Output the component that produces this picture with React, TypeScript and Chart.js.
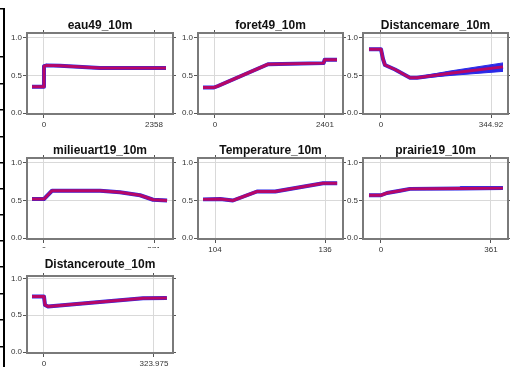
import React, { useEffect, useRef } from "react";
import { Chart, registerables } from "chart.js";

Chart.register(...registerables);
Chart.defaults.font.family = "'Liberation Sans', Arial, sans-serif";

// ---------- data ----------
const titles = [
  "eau49_10m",
  "foret49_10m",
  "Distancemare_10m",
  "milieuart19_10m",
  "Temperature_10m",
  "prairie19_10m",
  "Distanceroute_10m",
];

const yTickValues = [0, 0.5, 1];

// eau49_10m
const eauTicks = [0, 2358];
const eauTickLabels = ["0", "2358"];
const eauRange = [-364, 2765];
const eauX = [-257, 0, 0, 60, 343, 1200, 2615];
const eauY = [0.35, 0.35, 0.625, 0.635, 0.63, 0.6, 0.6];

// foret49_10m
const foretTicks = [0, 2401];
const foretTickLabels = ["0", "2401"];
const foretRange = [-371, 2794];
const foretX = [-262, -22, 65, 1157, 2370, 2395, 2663];
const foretY = [0.34, 0.34, 0.36, 0.65, 0.665, 0.71, 0.71];

// Distancemare_10m
const mareTicks = [0, 344.92];
const mareTickLabels = ["0", "344.92"];
const mareRange = [-56.4, 398.2];
const mareX = [-37.6, 0, 6.3, 12.5, 43.9, 90.9, 112.9, 216.4, 382.5];
const mareY = [0.85, 0.85, 0.72, 0.64, 0.58, 0.47, 0.47, 0.53, 0.615];
const mareLo = [0.85, 0.85, 0.72, 0.64, 0.58, 0.465, 0.46, 0.5, 0.555];
const mareHi = [0.85, 0.85, 0.72, 0.64, 0.58, 0.475, 0.48, 0.56, 0.668];

// milieuart19_10m
const milieuTicks = [0, 371];
const milieuTickLabels = ["0", "371"];
const milieuRange = [-57.3, 435];
const milieuX = [-40.5, 0, 27, 189, 256, 324, 368, 415];
const milieuY = [0.52, 0.52, 0.63, 0.63, 0.61, 0.57, 0.51, 0.5];

// Temperature_10m
const tempTicks = [104, 136];
const tempTickLabels = ["104", "136"];
const tempRange = [99.05, 141.2];
const tempX = [100.5, 105.5, 109.2, 116.2, 121.5, 135.4, 139.5];
const tempY = [0.515, 0.52, 0.5, 0.62, 0.62, 0.73, 0.73];

// prairie19_10m
const prairieTicks = [0, 361];
const prairieTickLabels = ["0", "361"];
const prairieRange = [-59, 416.8];
const prairieX = [-39.4, 0, 19.7, 62.4, 95.2, 259, 260, 400];
const prairieY = [0.57, 0.57, 0.6, 0.63, 0.655, 0.66, 0.66, 0.665];
const prairieLo = [0.57, 0.57, 0.6, 0.63, 0.655, 0.66, 0.655, 0.655];
const prairieHi = [0.57, 0.57, 0.6, 0.63, 0.655, 0.66, 0.685, 0.685];

// Distanceroute_10m
const routeTicks = [0, 323.975];
const routeTickLabels = ["0", "323.975"];
const routeRange = [-50, 380];
const routeX = [-35.3, 0, 3, 11.8, 291.6, 362];
const routeY = [0.755, 0.755, 0.64, 0.62, 0.73, 0.735];

// left strip tick positions
const stripTicks = [9, 57, 84, 110, 137, 163, 189, 215, 241, 267, 294, 320, 347];

// ---------- layout ----------
const cols = [
  { canvasLeft: 0, frameLeft: 27, frameRight: 173 },
  { canvasLeft: 171, frameLeft: 198, frameRight: 343 },
  { canvasLeft: 336, frameLeft: 363, frameRight: 508 },
];
const rows = [
  { canvasTop: 0, titleCenter: 25.5, frameTop: 33, frameBottom: 114, yOne: 38, yZero: 113, bg: "transparent" },
  { canvasTop: 125, titleCenter: 150.5, frameTop: 158, frameBottom: 239, yOne: 163, yZero: 238, bg: "transparent" },
  { canvasTop: 248, titleCenter: 264.5, frameTop: 276, frameBottom: 353, yOne: 278.5, yZero: 352, bg: "#ffffff" },
];

type Panel = {
  title: string;
  x: number[];
  y: number[];
  lo?: number[];
  hi?: number[];
  ticks: number[];
  tickLabels: string[];
  range: number[];
  col: number;
  row: number;
};

const panels: Panel[] = [
  { title: titles[0], x: eauX, y: eauY, ticks: eauTicks, tickLabels: eauTickLabels, range: eauRange, col: 0, row: 0 },
  { title: titles[1], x: foretX, y: foretY, ticks: foretTicks, tickLabels: foretTickLabels, range: foretRange, col: 1, row: 0 },
  { title: titles[2], x: mareX, y: mareY, lo: mareLo, hi: mareHi, ticks: mareTicks, tickLabels: mareTickLabels, range: mareRange, col: 2, row: 0 },
  { title: titles[3], x: milieuX, y: milieuY, ticks: milieuTicks, tickLabels: milieuTickLabels, range: milieuRange, col: 0, row: 1 },
  { title: titles[4], x: tempX, y: tempY, ticks: tempTicks, tickLabels: tempTickLabels, range: tempRange, col: 1, row: 1 },
  { title: titles[5], x: prairieX, y: prairieY, lo: prairieLo, hi: prairieHi, ticks: prairieTicks, tickLabels: prairieTickLabels, range: prairieRange, col: 2, row: 1 },
  { title: titles[6], x: routeX, y: routeY, ticks: routeTicks, tickLabels: routeTickLabels, range: routeRange, col: 0, row: 2 },
];

const Y_AXIS_W = 27;
const X_AXIS_H = 20;
const RIGHT_PAD = 4;
const TITLE_SIZE = 12;
const TITLE_LH = 1.2;

const BLUE = "#2a2ae8";
const RED = "rgba(215,0,75,0.82)";

const framePlugin = {
  id: "frameBox",
  afterDatasetsDraw(chart: any) {
    const { ctx, chartArea: a } = chart;
    ctx.save();
    ctx.strokeStyle = "#7a7a7a";
    ctx.lineWidth = 2;
    ctx.strokeRect(a.left, a.top, a.right - a.left, a.bottom - a.top);
    ctx.restore();
  },
};

function geom(p: Panel) {
  const c = cols[p.col];
  const r = rows[p.row];
  const width = c.frameRight - c.canvasLeft + RIGHT_PAD;
  const height = r.frameBottom - r.canvasTop + X_AXIS_H;
  const unit = r.yZero - r.yOne;
  const ymin = -(r.frameBottom - r.yZero) / unit;
  const ymax = 1 + (r.yOne - r.frameTop) / unit;
  const lineBox = TITLE_SIZE * TITLE_LH;
  const padTop = r.titleCenter - r.canvasTop - lineBox / 2;
  const padBottom = r.frameTop - r.canvasTop - padTop - lineBox;
  return { left: c.canvasLeft, top: r.canvasTop, width, height, ymin, ymax, padTop, padBottom, bg: r.bg };
}

function pts(xs: number[], ys: number[]) {
  return xs.map((x, i) => ({ x, y: ys[i] }));
}

function panelConfig(p: Panel): any {
  const g = geom(p);
  const datasets: any[] = [
    {
      label: "red",
      data: pts(p.x, p.y),
      borderColor: RED,
      borderWidth: 3,
      pointRadius: 0,
      tension: 0,
      order: 0,
      borderJoinStyle: "round",
    },
    {
      label: "blue",
      data: pts(p.x, p.y),
      borderColor: BLUE,
      borderWidth: 4,
      pointRadius: 0,
      tension: 0,
      order: 1,
      borderJoinStyle: "round",
    },
  ];
  if (p.lo && p.hi) {
    datasets.push(
      {
        label: "hi",
        data: pts(p.x, p.hi),
        borderColor: BLUE,
        borderWidth: 1,
        backgroundColor: BLUE,
        pointRadius: 0,
        tension: 0,
        fill: "+1",
        order: 2,
      },
      {
        label: "lo",
        data: pts(p.x, p.lo),
        borderColor: BLUE,
        borderWidth: 1,
        pointRadius: 0,
        tension: 0,
        fill: false,
        order: 3,
      }
    );
  }
  const tickFont = { size: 8, family: "'Liberation Sans', Arial, sans-serif" };
  const gridColor = "#d9d9d9";
  const tickColor = "#555555";
  return {
    type: "line",
    data: { datasets },
    plugins: [framePlugin],
    options: {
      animation: false,
      responsive: false,
      devicePixelRatio: 1,
      events: [],
      layout: { padding: { left: 0, right: RIGHT_PAD, top: 0, bottom: 0 } },
      plugins: {
        legend: { display: false },
        tooltip: { enabled: false },
        title: {
          display: true,
          text: p.title,
          fullSize: false,
          color: "#111111",
          font: { size: TITLE_SIZE, weight: "bold", lineHeight: TITLE_LH },
          padding: { top: g.padTop, bottom: g.padBottom },
        },
      },
      scales: {
        x: {
          type: "linear",
          position: "bottom",
          min: p.range[0],
          max: p.range[1],
          afterBuildTicks: (s: any) => {
            s.ticks = p.ticks.map((v) => ({ value: v }));
          },
          afterFit: (s: any) => {
            s.height = X_AXIS_H;
            s.paddingLeft = 0;
            s.paddingRight = 0;
          },
          ticks: {
            autoSkip: false,
            maxRotation: 0,
            padding: 2,
            color: "#333333",
            font: tickFont,
            callback: (_v: any, i: number) => p.tickLabels[i],
          },
          grid: { color: gridColor, tickColor, tickLength: 4, lineWidth: 1 },
          border: { display: false },
        },
        x2: {
          type: "linear",
          position: "top",
          min: p.range[0],
          max: p.range[1],
          afterBuildTicks: (s: any) => {
            s.ticks = p.ticks.map((v) => ({ value: v }));
          },
          afterFit: (s: any) => {
            s.height = 0;
            s.paddingLeft = 0;
            s.paddingRight = 0;
          },
          ticks: { display: false },
          grid: { drawOnChartArea: false, color: tickColor, tickLength: 3, lineWidth: 1 },
          border: { display: false },
        },
        y: {
          type: "linear",
          position: "left",
          min: g.ymin,
          max: g.ymax,
          afterBuildTicks: (s: any) => {
            s.ticks = yTickValues.map((v) => ({ value: v }));
          },
          afterFit: (s: any) => {
            s.width = Y_AXIS_W;
            s.paddingTop = 0;
            s.paddingBottom = 0;
          },
          ticks: {
            padding: 1,
            color: "#333333",
            font: tickFont,
            callback: (v: any) => Number(v).toFixed(1),
          },
          grid: { color: gridColor, tickColor, tickLength: 4, lineWidth: 1 },
          border: { display: false },
        },
        y2: {
          type: "linear",
          position: "right",
          min: g.ymin,
          max: g.ymax,
          afterBuildTicks: (s: any) => {
            s.ticks = yTickValues.map((v) => ({ value: v }));
          },
          afterFit: (s: any) => {
            s.width = 0;
            s.paddingTop = 0;
            s.paddingBottom = 0;
          },
          ticks: { display: false },
          grid: { drawOnChartArea: false, color: tickColor, tickLength: 3, lineWidth: 1 },
          border: { display: false },
        },
      },
    },
  };
}

function stripConfig(): any {
  return {
    type: "line",
    data: { datasets: [] },
    options: {
      animation: false,
      responsive: false,
      devicePixelRatio: 1,
      events: [],
      layout: { padding: 0 },
      plugins: { legend: { display: false }, tooltip: { enabled: false }, title: { display: false } },
      scales: {
        x: { type: "linear", display: false, min: 0, max: 1 },
        y: {
          type: "linear",
          position: "left",
          reverse: true,
          min: 8,
          max: 367,
          afterBuildTicks: (s: any) => {
            s.ticks = stripTicks.map((v) => ({ value: v }));
          },
          afterFit: (s: any) => {
            s.width = 4;
            s.paddingTop = 0;
            s.paddingBottom = 0;
          },
          ticks: { display: false },
          grid: { drawOnChartArea: false, color: "#000000", tickLength: 4, lineWidth: 1.5 },
          border: { display: true, color: "#000000", width: 2 },
        },
      },
    },
  };
}

export default function App() {
  const refs = useRef<(HTMLCanvasElement | null)[]>([]);
  const stripRef = useRef<HTMLCanvasElement | null>(null);

  useEffect(() => {
    const charts: Chart[] = [];
    panels.forEach((p, i) => {
      const c = refs.current[i];
      if (c) charts.push(new Chart(c, panelConfig(p)));
    });
    if (stripRef.current) charts.push(new Chart(stripRef.current, stripConfig()));
    return () => charts.forEach((c) => c.destroy());
  }, []);

  return (
    <div
      style={{
        position: "fixed",
        left: 0,
        top: 0,
        width: 510,
        height: 367,
        overflow: "hidden",
        background: "#ffffff",
      }}
    >
      {panels.map((p, i) => {
        const g = geom(p);
        return (
          <canvas
            key={p.title}
            ref={(el) => {
              refs.current[i] = el;
            }}
            width={g.width}
            height={g.height}
            style={{
              position: "absolute",
              left: g.left,
              top: g.top,
              width: g.width,
              height: g.height,
              background: g.bg,
            }}
          />
        );
      })}
      <canvas
        ref={stripRef}
        width={8}
        height={359}
        style={{ position: "absolute", left: 0, top: 8, width: 8, height: 359 }}
      />
    </div>
  );
}
